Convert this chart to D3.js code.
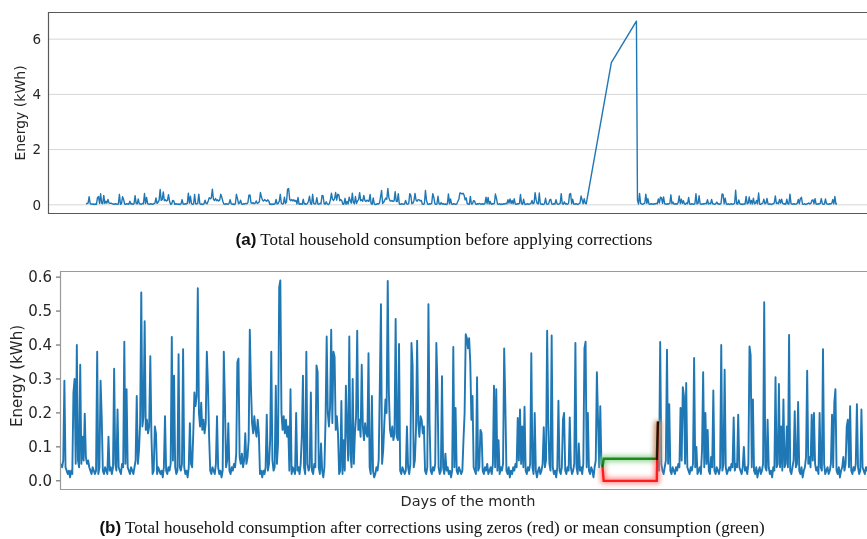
<!DOCTYPE html>
<html>
<head>
<meta charset="utf-8">
<script src="https://cdn.jsdelivr.net/npm/d3@7.9.0/dist/d3.min.js"></script>
<style>
  body { margin: 0; background: #fff; }
  svg { display: block; }
  .tick-label, .axis-label { font-family: "DejaVu Sans", sans-serif; fill: #262626; }
  .caption { font-family: "Liberation Serif", "Times New Roman", serif; font-size: 17px; fill: #111; }
  .caption .tag { font-family: "Liberation Sans", Arial, sans-serif; font-weight: bold; }
</style>
</head>
<body>
<svg id="chart" width="867" height="539"></svg>
<script>
// hourly household consumption (kWh), one row per day, null = missing readings
const hourlyKwh = [
  0.05,0.04,0.06,0.295,0.04,0.03,0.02,0.03,0.01,0.03,0.02,0.26,0.30,0.05,0.40,0.06,0.04,0.342,0.05,0.13,0.06,0.198,0.07,0.05,
  0.06,0.04,0.03,0.02,0.04,0.03,0.02,0.03,0.38,0.02,0.04,0.295,0.19,0.03,0.02,0.04,0.03,0.02,0.13,0.03,0.04,0.02,0.04,0.33,
  0.05,0.03,0.21,0.04,0.03,0.02,0.05,0.04,0.41,0.05,0.27,0.04,0.03,0.02,0.04,0.03,0.02,0.04,0.06,0.25,0.05,0.09,0.17,0.555,
  0.16,0.19,0.47,0.15,0.18,0.14,0.16,0.367,0.13,0.02,0.03,0.16,0.14,0.02,0.04,0.03,0.02,0.03,0.01,0.04,0.19,0.03,0.02,0.04,
  0.03,0.05,0.424,0.06,0.31,0.04,0.02,0.03,0.373,0.04,0.03,0.05,0.388,0.04,0.02,0.03,0.01,0.04,0.17,0.05,0.04,0.14,0.26,0.22,
  0.25,0.567,0.2,0.16,0.23,0.15,0.18,0.14,0.17,0.38,0.28,0.13,0.03,0.02,0.04,0.03,0.02,0.05,0.19,0.04,0.02,0.03,0.01,0.03,
  0.38,0.23,0.04,0.06,0.17,0.03,0.02,0.04,0.03,0.05,0.04,0.08,0.35,0.36,0.07,0.05,0.08,0.04,0.06,0.14,0.05,0.07,0.12,0.445,
  0.28,0.17,0.14,0.19,0.15,0.13,0.18,0.14,0.02,0.03,0.01,0.03,0.02,0.04,0.195,0.03,0.05,0.12,0.38,0.06,0.03,0.04,0.28,0.05,
  0.11,0.57,0.59,0.2,0.15,0.19,0.14,0.18,0.13,0.16,0.03,0.27,0.02,0.04,0.03,0.02,0.2,0.03,0.04,0.02,0.05,0.13,0.31,0.04,
  0.02,0.38,0.05,0.03,0.04,0.26,0.03,0.02,0.05,0.04,0.34,0.32,0.04,0.02,0.11,0.03,0.01,0.04,0.18,0.425,0.2,0.16,0.22,0.445,
  0.17,0.38,0.365,0.15,0.19,0.14,0.02,0.03,0.235,0.02,0.12,0.03,0.28,0.15,0.06,0.425,0.08,0.04,0.30,0.05,0.14,0.19,0.442,0.15,
  0.18,0.13,0.342,0.16,0.12,0.17,0.14,0.13,0.376,0.04,0.02,0.25,0.03,0.01,0.02,0.04,0.03,0.06,0.28,0.52,0.05,0.09,0.17,0.24,
  0.2,0.589,0.26,0.15,0.13,0.16,0.12,0.14,0.477,0.13,0.12,0.403,0.03,0.02,0.04,0.03,0.02,0.03,0.16,0.04,0.02,0.05,0.406,0.34,
  0.04,0.06,0.15,0.413,0.17,0.13,0.19,0.18,0.14,0.16,0.03,0.02,0.04,0.52,0.17,0.03,0.02,0.04,0.03,0.05,0.406,0.28,0.04,0.02,
  0.03,0.308,0.04,0.02,0.08,0.03,0.04,0.02,0.03,0.01,0.03,0.394,0.04,0.215,0.03,0.02,0.04,0.03,0.02,0.03,0.12,0.2,0.432,0.42,
  0.39,0.42,0.35,0.18,0.25,0.04,0.03,0.02,0.305,0.03,0.04,0.15,0.14,0.03,0.02,0.04,0.03,0.05,0.02,0.03,0.04,0.02,0.05,0.28,
  0.04,0.27,0.03,0.12,0.02,0.04,0.03,0.05,0.39,0.23,0.03,0.02,0.04,0.01,0.03,0.02,0.04,0.03,0.05,0.04,0.185,0.06,0.21,0.05,
  0.16,0.04,0.218,0.03,0.02,0.04,0.03,0.05,0.376,0.04,0.02,0.2,0.03,0.01,0.03,0.04,0.02,0.03,0.05,0.158,0.04,0.06,0.442,0.17,
  0.05,0.03,0.428,0.04,0.02,0.03,0.01,0.04,0.236,0.03,0.02,0.04,0.18,0.2,0.03,0.02,0.04,0.03,0.187,0.04,0.02,0.03,0.05,0.406,
  0.04,0.02,0.11,0.03,0.04,0.02,0.05,0.39,0.41,0.04,0.2,0.03,0.02,0.04,0.03,0.01,0.04,0.06,0.32,0.18,0.04,0.22,0.05,0.04,
  null,null,null,null,null,null,null,null,null,null,null,null,null,null,null,null,null,null,null,null,null,null,null,null,
  null,null,null,null,null,null,null,null,null,null,null,null,null,null,null,null,null,null,null,null,null,null,null,null,
  0.175,0.03,0.409,0.05,0.03,0.02,0.04,0.06,0.386,0.05,0.226,0.03,0.02,0.04,0.03,0.02,0.04,0.03,0.05,0.04,0.215,0.06,0.276,0.25,
  0.05,0.288,0.04,0.03,0.02,0.04,0.03,0.05,0.362,0.04,0.1,0.02,0.03,0.04,0.02,0.09,0.32,0.04,0.2,0.05,0.15,0.03,0.02,0.07,
  0.04,0.266,0.03,0.02,0.04,0.03,0.02,0.04,0.40,0.03,0.05,0.327,0.04,0.02,0.03,0.04,0.03,0.05,0.04,0.187,0.03,0.05,0.04,0.195,
  0.04,0.03,0.02,0.04,0.1,0.03,0.04,0.02,0.05,0.396,0.37,0.04,0.24,0.03,0.02,0.04,0.01,0.03,0.04,0.02,0.03,0.05,0.526,0.04,
  0.03,0.18,0.04,0.02,0.03,0.01,0.04,0.03,0.305,0.04,0.05,0.285,0.04,0.16,0.03,0.24,0.04,0.05,0.16,0.04,0.43,0.03,0.02,0.04,
  0.06,0.205,0.04,0.05,0.232,0.03,0.02,0.04,0.01,0.03,0.04,0.07,0.324,0.05,0.07,0.04,0.195,0.06,0.2,0.05,0.03,0.04,0.02,0.2,
  0.04,0.03,0.388,0.05,0.02,0.03,0.04,0.02,0.03,0.05,0.195,0.04,0.23,0.27,0.03,0.02,0.04,0.01,0.03,0.04,0.07,0.03,0.05,0.16,
  0.18,0.04,0.22,0.03,0.02,0.04,0.03,0.05,0.226,0.04,0.02,0.03,0.21,0.04,0.03,0.02,0.04,0.03,0.05,0.19,0.04,0.3,0.03,0.04
];

// raw meter readings inside the gap (the bogus jump in panel a)
const meterHours = [503, 527];
const meterKwh = [5.15, 6.65];

const gapStart = 480;   // first missing hour
const gapEnd = 528;     // first hour with data again
const zeroFill = 0;
const meanFill = 0.065;

const ticksA = [0, 2, 4, 6];
const ticksB = [0, 0.1, 0.2, 0.3, 0.4, 0.5, 0.6];

const captionA = ['(a)', ' Total household consumption before applying corrections'];
const captionB = ['(b)', ' Total household consumption after corrections using zeros (red) or mean consumption (green)'];

const blue = '#1f77b4';
const svg = d3.select('#chart');

const defs = svg.append('defs');
defs.append('clipPath').attr('id', 'clipA')
  .append('rect').attr('x', 48).attr('y', 12).attr('width', 836).attr('height', 202);
defs.append('clipPath').attr('id', 'clipB')
  .append('rect').attr('x', 60).attr('y', 271).attr('width', 816).attr('height', 219);
defs.append('filter').attr('id', 'glow')
  .attr('filterUnits', 'userSpaceOnUse')
  .attr('x', 0).attr('y', 0).attr('width', 867).attr('height', 539)
  .append('feGaussianBlur').attr('stdDeviation', 2.4);

let points = hourlyKwh.map((v, h) => ({ h: h, v: v }));

// ---------- panel (a) ----------
let xA = d3.scaleLinear().domain([0, 720]).range([86, 838]);
let yA = d3.scaleLinear().domain([-0.3325, 6.9825]).range([214, 12]);

let rawPoints = points.filter(d => d.v !== null)
  .concat(meterHours.map((h, i) => ({ h: h, v: meterKwh[i] })))
  .sort((a, b) => a.h - b.h);

let gA = svg.append('g');

gA.selectAll('line.grid')
  .data(ticksA)
  .join('line')
  .attr('class', 'grid')
  .attr('x1', 48).attr('x2', 884)
  .attr('y1', d => yA(d)).attr('y2', d => yA(d))
  .attr('stroke', '#d6d6d6')
  .attr('stroke-width', 1);

gA.append('path')
  .datum(rawPoints)
  .attr('clip-path', 'url(#clipA)')
  .attr('fill', 'none')
  .attr('stroke', blue)
  .attr('stroke-width', 1.4)
  .attr('stroke-linejoin', 'round')
  .attr('d', d3.line().x(d => xA(d.h)).y(d => yA(d.v)));

gA.append('path')
  .attr('d', 'M884,12.5H48.5V213.5H884')
  .attr('fill', 'none')
  .attr('stroke', '#595959')
  .attr('stroke-width', 1.2);

gA.selectAll('text.tick-label')
  .data(ticksA)
  .join('text')
  .attr('class', 'tick-label')
  .attr('x', 41)
  .attr('y', d => yA(d))
  .attr('dy', '0.35em')
  .attr('text-anchor', 'end')
  .attr('font-size', 13.5)
  .text(d => d);

gA.append('text')
  .attr('class', 'axis-label')
  .attr('transform', 'translate(20,113) rotate(-90)')
  .attr('text-anchor', 'middle')
  .attr('dy', '0.35em')
  .attr('font-size', 14)
  .text('Energy (kWh)');

// ---------- panel (b) ----------
let xB = d3.scaleLinear().domain([0, 720]).range([61, 875]);
let yB = d3.scaleLinear().domain([-0.027, 0.618]).range([490, 271]);

let lineB = d3.line()
  .defined(d => d.v !== null)
  .x(d => xB(d.h))
  .y(d => yB(d.v));

let gB = svg.append('g');

gB.append('path')
  .datum(points)
  .attr('clip-path', 'url(#clipB)')
  .attr('fill', 'none')
  .attr('stroke', blue)
  .attr('stroke-width', 1.9)
  .attr('stroke-linejoin', 'round')
  .attr('d', lineB);

// corrected gap: mean (green) and zeros (red)
function fillSeries(value) {
  let inner = d3.range(gapStart, gapEnd).map(h => ({ h: h, v: value }));
  return [{ h: gapStart - 1, v: hourlyKwh[gapStart - 1] }]
    .concat(inner)
    .concat([{ h: gapEnd, v: hourlyKwh[gapEnd] }]);
}

let fills = [
  { value: meanFill, color: '#2e9a2e', halo: '#7fd07f' },
  { value: zeroFill, color: '#ff2a2a', halo: '#ff7a7a' }
];

// soft halos first, then the two lines on top of each other
fills.forEach(f => {
  gB.append('path')
    .attr('d', lineB(fillSeries(f.value)))
    .attr('fill', 'none')
    .attr('stroke', f.halo)
    .attr('stroke-width', 6)
    .attr('opacity', 0.85)
    .attr('filter', 'url(#glow)');
});
fills.forEach(f => {
  gB.append('path')
    .attr('d', lineB(fillSeries(f.value)))
    .attr('fill', 'none')
    .attr('stroke', f.color)
    .attr('stroke-width', 2.4)
    .style('mix-blend-mode', 'multiply');
});

gB.append('path')
  .attr('d', 'M876,271.5H60.5V489.5H876')
  .attr('fill', 'none')
  .attr('stroke', '#9a9a9a')
  .attr('stroke-width', 1.2);

gB.selectAll('line.tick')
  .data(ticksB)
  .join('line')
  .attr('class', 'tick')
  .attr('x1', 56).attr('x2', 60)
  .attr('y1', d => yB(d)).attr('y2', d => yB(d))
  .attr('stroke', '#555')
  .attr('stroke-width', 1);

gB.selectAll('text.tick-label')
  .data(ticksB)
  .join('text')
  .attr('class', 'tick-label')
  .attr('x', 52)
  .attr('y', d => yB(d))
  .attr('dy', '0.35em')
  .attr('text-anchor', 'end')
  .attr('font-size', 15)
  .text(d => d3.format('.1f')(d));

gB.append('text')
  .attr('class', 'axis-label')
  .attr('transform', 'translate(17,376) rotate(-90)')
  .attr('text-anchor', 'middle')
  .attr('dy', '0.35em')
  .attr('font-size', 15)
  .text('Energy (kWh)');

gB.append('text')
  .attr('class', 'axis-label')
  .attr('x', 468)
  .attr('y', 506)
  .attr('text-anchor', 'middle')
  .attr('font-size', 14.5)
  .text('Days of the month');

// ---------- captions ----------
function caption(parts, x, y) {
  let t = svg.append('text')
    .attr('class', 'caption')
    .attr('x', x)
    .attr('y', y)
    .attr('text-anchor', 'middle');
  t.append('tspan').attr('class', 'tag').text(parts[0]);
  t.append('tspan').text(parts[1]);
}

caption(captionA, 444, 245);
caption(captionB, 432, 533);
</script>
</body>
</html>
